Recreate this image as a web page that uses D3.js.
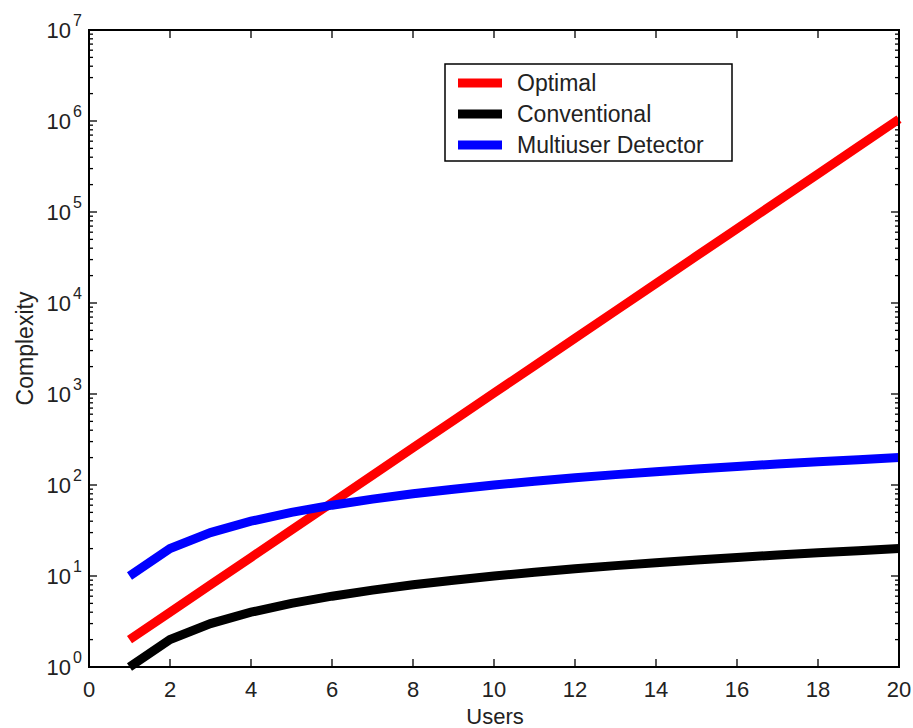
<!DOCTYPE html>
<html>
<head>
<meta charset="utf-8">
<style>
  body { margin: 0; background: #fff; font-family: "Liberation Sans", Arial, sans-serif; }
  svg text { fill: #222; }
</style>
<script src="https://cdn.jsdelivr.net/npm/d3@7"></script>
</head>
<body>
<script>
// data
var users = [1, 2, 3, 4, 5, 6, 7, 8, 9, 10, 11, 12, 13, 14, 15, 16, 17, 18, 19, 20];
var optimal = [2, 4, 8, 16, 32, 64, 128, 256, 512, 1024, 2048, 4096, 8192, 16384, 32768,
               65536, 131072, 262144, 524288, 1048576];
var conventional = [1, 2, 3, 4, 5, 6, 7, 8, 9, 10, 11, 12, 13, 14, 15, 16, 17, 18, 19, 20];
var multiuser = [10, 20, 30, 40, 50, 60, 70, 80, 90, 100, 110, 120, 130, 140, 150, 160, 170, 180, 190, 200];
var seriesNames = ["Optimal", "Conventional", "Multiuser Detector"];
var seriesColors = ["#ff0000", "#000000", "#0000ff"];
var xTicks = [0, 2, 4, 6, 8, 10, 12, 14, 16, 18, 20];
var yExponents = [0, 1, 2, 3, 4, 5, 6, 7];

var width = 913, height = 728;
var margin = {top: 30, right: 14, bottom: 61, left: 89};
var innerW = width - margin.left - margin.right,
    innerH = height - margin.top - margin.bottom;

var svg = d3.select("body").append("svg")
  .attr("width", width).attr("height", height);
var g = svg.append("g").attr("transform", "translate(" + margin.left + "," + margin.top + ")");

var x = d3.scaleLinear().domain([0, 20]).range([0, innerW]);
var y = d3.scaleLog().domain([1, 1e7]).range([innerH, 0]);

// minor log ticks
var minor = [];
for (var e = 0; e < 7; e++) {
  for (var m = 2; m <= 9; m++) minor.push(m * Math.pow(10, e));
}
var majors = yExponents.map(function(e) { return Math.pow(10, e); });

// y ticks, left and right (inward)
[0, innerW].forEach(function(px, side) {
  var dir = side === 0 ? 1 : -1;
  g.append("g").selectAll("line").data(minor).enter().append("line")
    .attr("x1", px).attr("x2", px + dir * 4)
    .attr("y1", function(d) { return y(d); }).attr("y2", function(d) { return y(d); })
    .attr("stroke", "#000").attr("stroke-width", 1.3);
  g.append("g").selectAll("line").data(majors).enter().append("line")
    .attr("x1", px).attr("x2", px + dir * 8)
    .attr("y1", function(d) { return y(d); }).attr("y2", function(d) { return y(d); })
    .attr("stroke", "#000").attr("stroke-width", 1.3);
});

// x ticks, bottom and top (inward)
[innerH, 0].forEach(function(py, side) {
  var dir = side === 0 ? -1 : 1;
  g.append("g").selectAll("line").data(xTicks).enter().append("line")
    .attr("x1", function(d) { return x(d); }).attr("x2", function(d) { return x(d); })
    .attr("y1", py).attr("y2", py + dir * 8)
    .attr("stroke", "#000").attr("stroke-width", 1.3);
});

// x tick labels
g.append("g").selectAll("text").data(xTicks).enter().append("text")
  .attr("x", function(d) { return x(d); })
  .attr("y", innerH + 30)
  .attr("text-anchor", "middle")
  .style("font-size", "22px")
  .text(function(d) { return d; });

// y tick labels 10^n
var yl = g.append("g").selectAll("text").data(yExponents).enter().append("text")
  .attr("x", -7)
  .attr("y", function(d) { return y(Math.pow(10, d)) + 8; })
  .attr("text-anchor", "end")
  .style("font-size", "22px");
yl.append("tspan").text("10");
yl.append("tspan").attr("dy", -12).attr("dx", 2).style("font-size", "16px").text(function(d) { return d; });

// lines
var line = d3.line()
  .x(function(d) { return x(d[0]); })
  .y(function(d) { return y(d[1]); });

[optimal, conventional, multiuser].forEach(function(vals, i) {
  g.append("path")
    .datum(users.map(function(u, j) { return [u, vals[j]]; }))
    .attr("d", line)
    .attr("fill", "none")
    .attr("stroke", seriesColors[i])
    .attr("stroke-width", 9);
});

// frame
g.append("rect")
  .attr("width", innerW).attr("height", innerH)
  .attr("fill", "none").attr("stroke", "#000").attr("stroke-width", 2);

// axis titles
svg.append("text")
  .attr("x", margin.left + innerW / 2 + 1)
  .attr("y", height - 4)
  .attr("text-anchor", "middle")
  .style("font-size", "22px")
  .text("Users");

svg.append("text")
  .attr("transform", "translate(33," + (margin.top + innerH / 2) + ") rotate(-90)")
  .attr("text-anchor", "middle")
  .style("font-size", "23px")
  .text("Complexity");

// legend
var legend = svg.append("g").attr("transform", "translate(445,64)");
legend.append("rect")
  .attr("width", 287).attr("height", 97)
  .attr("fill", "#fff").attr("stroke", "#000").attr("stroke-width", 1.5);
var items = legend.selectAll("g.item").data(seriesNames).enter().append("g")
  .attr("transform", function(d, i) { return "translate(0," + (19 + i * 31) + ")"; });
items.append("line")
  .attr("x1", 13).attr("x2", 57).attr("y1", 0).attr("y2", 0)
  .attr("stroke", function(d, i) { return seriesColors[i]; })
  .attr("stroke-width", 9);
items.append("text")
  .attr("x", 72).attr("y", 8)
  .style("font-size", "23px")
  .text(function(d) { return d; });
</script>
</body>
</html>
